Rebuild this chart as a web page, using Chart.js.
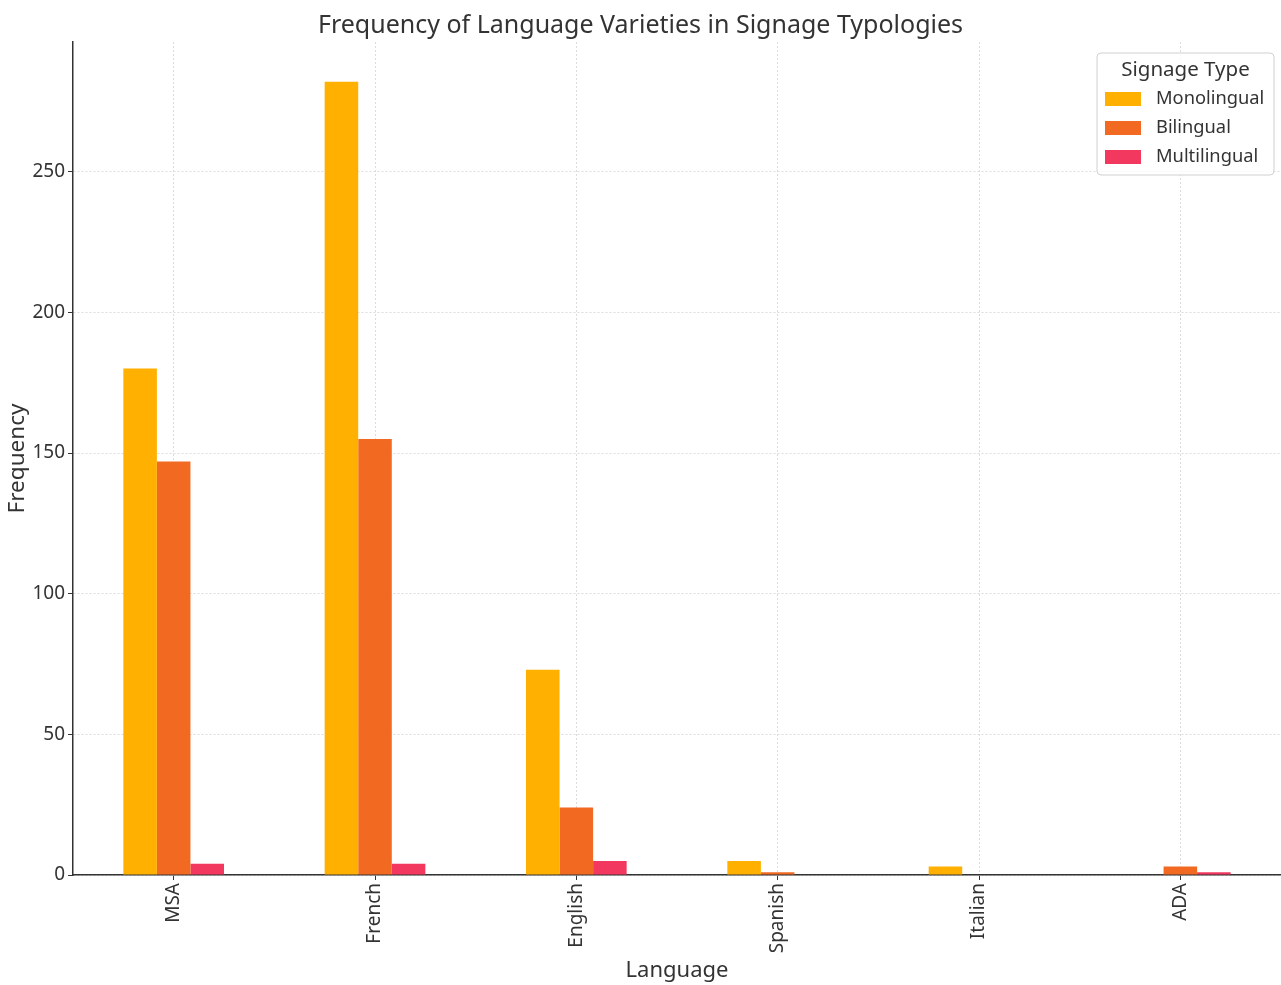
<!DOCTYPE html>
<html>
<head>
<meta charset="utf-8">
<script src="https://cdn.jsdelivr.net/npm/chart.js@4.4.1/dist/chart.umd.min.js"></script>
<style>
  html, body { margin: 0; padding: 0; background: #fff; }
  #wrap { width: 1281px; height: 985px; }
</style>
</head>
<body>
<div id="wrap"><canvas id="chart"></canvas></div>
<script>
var languages = ['MSA', 'French', 'English', 'Spanish', 'Italian', 'ADA'];
var monolingual = [180, 282, 73, 5, 3, 0];
var bilingual = [147, 155, 24, 1, 0, 3];
var multilingual = [4, 4, 5, 0, 0, 1];
var seriesNames = ['Monolingual', 'Bilingual', 'Multilingual'];
var seriesColors = ['#FFB000', '#F26A22', '#F2385E'];
var yTicks = [0, 50, 100, 150, 200, 250];

var font = 'Noto Sans';

// legend drawn inside the plot, top right, like the original
var insideLegend = {
    id: 'insideLegend',
    afterDraw: function (chart) {
        var c = chart.ctx;
        var area = chart.chartArea;
        var w = 177, h = 122;
        var x = area.right - 7 - w, y = area.top + 11;
        c.save();
        c.fillStyle = 'rgba(255,255,255,0.85)';
        c.strokeStyle = '#d0d0d0';
        c.lineWidth = 1;
        c.beginPath();
        c.roundRect(x, y, w, h, 4);
        c.fill();
        c.stroke();
        c.fillStyle = '#333';
        c.font = '20.5px "' + font + '"';
        c.textAlign = 'center';
        c.textBaseline = 'middle';
        c.fillText('Signage Type', x + w / 2, y + 17);
        c.font = '18.3px "' + font + '"';
        c.textAlign = 'left';
        chart.data.datasets.forEach(function (ds, i) {
            var yy = y + 46 + i * 29;
            c.fillStyle = ds.backgroundColor;
            c.fillRect(x + 8, yy - 7, 36, 14);
            c.fillStyle = '#333';
            c.fillText(ds.label, x + 59, yy);
        });
        c.restore();
    }
};

var ctx = document.getElementById('chart');

var config = {
    type: 'bar',
    data: {
        labels: languages,
        datasets: [
            { label: seriesNames[0], data: monolingual, backgroundColor: seriesColors[0] },
            { label: seriesNames[1], data: bilingual, backgroundColor: seriesColors[1] },
            { label: seriesNames[2], data: multilingual, backgroundColor: seriesColors[2] }
        ]
    },
    options: {
        responsive: true,
        maintainAspectRatio: false,
        animation: false,
        layout: { padding: { left: 0, right: 0, top: 0, bottom: 0 } },
        datasets: {
            bar: { categoryPercentage: 0.5, barPercentage: 1.0 }
        },
        plugins: {
            legend: { display: false },
            tooltip: { enabled: false },
            title: {
                display: true,
                text: 'Frequency of Language Varieties in Signage Typologies',
                color: '#333',
                font: { family: font, size: 25, weight: 'normal', lineHeight: 1.2 },
                padding: { top: 11, bottom: 1 }
            }
        },
        scales: {
            x: {
                grid: {
                    offset: false,
                    color: '#dcdcdc',
                    lineWidth: 1,
                    tickColor: '#333',
                    tickLength: 5
                },
                border: { color: '#333', width: 1.5, dash: [2, 2] },
                ticks: {
                    color: '#333',
                    font: { family: font, size: 19 },
                    maxRotation: 90,
                    minRotation: 90,
                    padding: 3
                },
                title: {
                    display: true,
                    text: 'Language',
                    color: '#333',
                    font: { family: font, size: 22 },
                    padding: { top: 0, bottom: 1 }
                },
                afterFit: function (scale) { scale.height = 110; }
            },
            y: {
                min: 0,
                max: 296.1,
                grid: {
                    color: '#dcdcdc',
                    lineWidth: 1,
                    tickColor: '#333',
                    tickLength: 5
                },
                border: { color: '#333', width: 1.5, dash: [2, 2] },
                afterBuildTicks: function (scale) {
                    scale.ticks = yTicks.map(function (v) { return { value: v }; });
                },
                ticks: {
                    color: '#333',
                    font: { family: font, size: 19 },
                    padding: 3
                },
                title: {
                    display: true,
                    text: 'Frequency',
                    color: '#333',
                    font: { family: font, size: 22.5 },
                    padding: { top: 4, bottom: 0 }
                },
                afterFit: function (scale) { scale.width = 73; }
            }
        }
    },
    plugins: [insideLegend]
};

new Chart(ctx, config);
</script>
</body>
</html>
